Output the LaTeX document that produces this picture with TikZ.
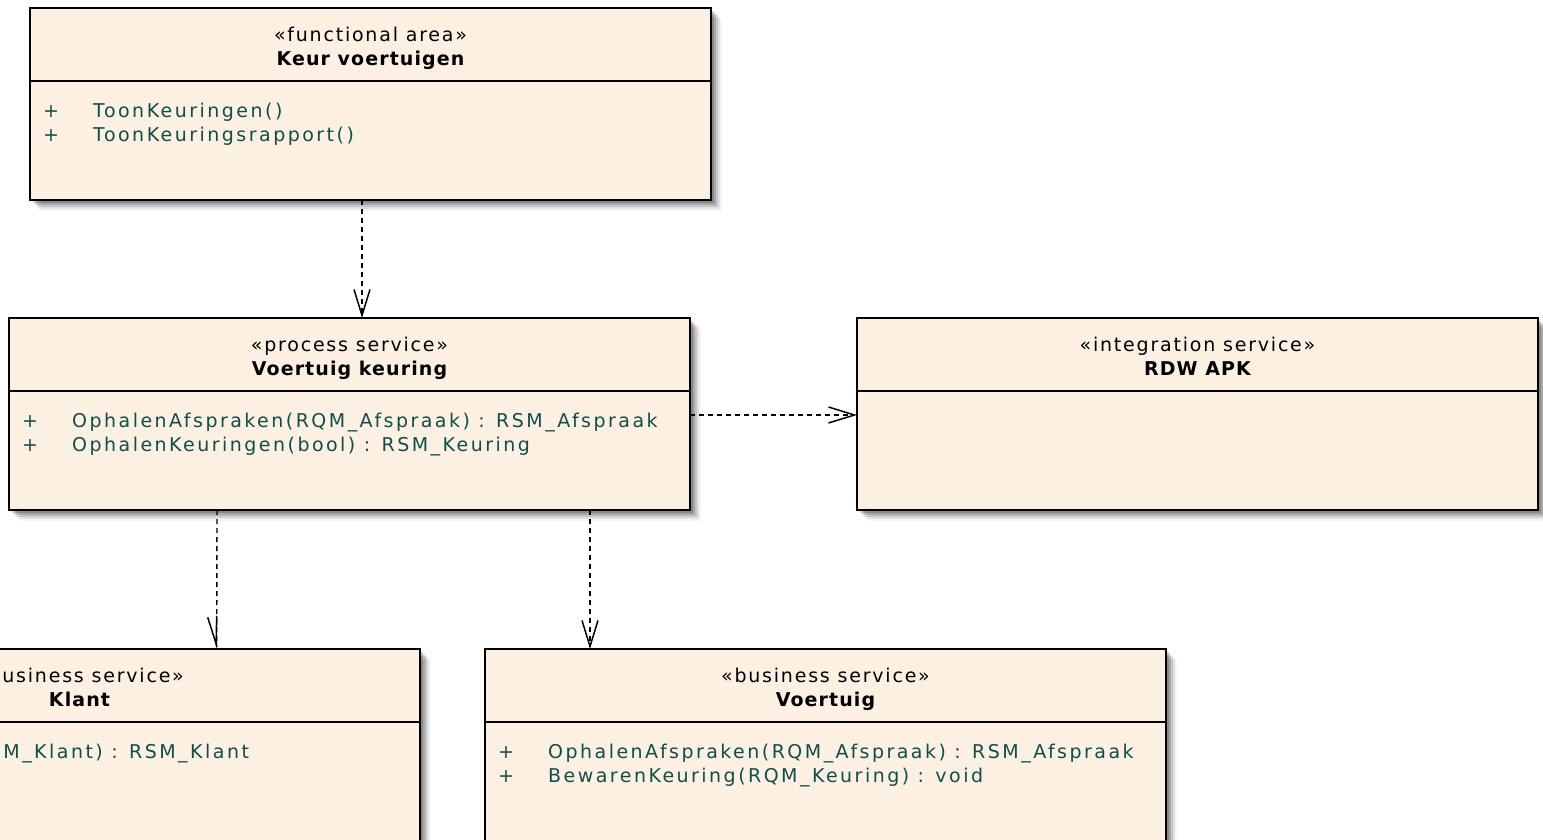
\documentclass[tikz,border=0pt]{standalone}
\usepackage{fontspec}
\setmainfont{DejaVu Sans}
\newfontfamily\stfont[LetterSpace=9.4]{DejaVu Sans}
\newfontfamily\opfont[LetterSpace=13]{DejaVu Sans}
\newfontfamily\nmfont[LetterSpace=5.8]{DejaVu Sans}
\usetikzlibrary{arrows.meta,shadows}
\definecolor{boxfill}{RGB}{251,240,226}
\definecolor{optext}{RGB}{16,78,78}
\tikzset{
  umlbox/.style={rectangle, draw=black, line width=1.5pt, fill=boxfill,
    minimum width=681pt, minimum height=192pt, inner sep=0pt, outer sep=0pt, anchor=north west,
    drop shadow={shadow xshift=2.5pt, shadow yshift=-2.5pt, opacity=0.18, fill=black},
    drop shadow={shadow xshift=4.5pt, shadow yshift=-4.5pt, opacity=0.15, fill=black},
    drop shadow={shadow xshift=6.5pt, shadow yshift=-6.5pt, opacity=0.12, fill=black},
    drop shadow={shadow xshift=8.5pt, shadow yshift=-8.5pt, opacity=0.08, fill=black},
    drop shadow={shadow xshift=10.5pt, shadow yshift=-10.5pt, opacity=0.04, fill=black}},
  sepline/.style={line width=1.2pt, draw=black},
  stereo/.style={anchor=base, inner sep=0pt, font=\stfont\fontsize{19}{23}\selectfont},
  bname/.style={anchor=base, inner sep=0pt, font=\nmfont\bfseries\fontsize{19}{23}\selectfont},
  optxt/.style={anchor=base west, inner sep=0pt, text=optext, font=\opfont\fontsize{19}{23}\selectfont},
  dep/.style={line width=1.4pt, dash pattern=on 5pt off 4pt,
    -{Straight Barb[length=26pt,width=16pt,line width=1.5pt]}},
  depnarrow/.style={line width=1.4pt, dash pattern=on 5pt off 4pt,
    -{Straight Barb[length=28pt,width=9pt,line width=1.5pt]}},
}
\begin{document}
\begin{tikzpicture}[x=1pt,y=-1pt]
\useasboundingbox (0,0) rectangle (1543,839);
\clip (0,0) rectangle (1543,839);
\fill[white] (0,0) rectangle (1543,839);

% boxes
\node[umlbox] (keur) at (30,8) {};
\node[umlbox] (proc) at (9,318) {};
\node[umlbox] (rdw) at (857,318) {};
\node[umlbox] (klant) at (-261,649) {};
\node[umlbox] (voer) at (485,649) {};

% separators
\foreach \b in {keur,proc,rdw,klant,voer}{
  \draw[sepline] ([yshift=-73pt]\b.north west) -- ([yshift=-73pt]\b.north east);
}

% Keur voertuigen
\node[stereo] (keurst) at ([yshift=-33.5pt]keur.north) {«functional area»};
\node[bname] (keurnm) at ([yshift=-57pt]keur.north) {Keur voertuigen};
\node[optxt] (keurp1) at ([shift={(13pt,-109pt)}]keur.north west) {+};
\node[optxt] (keuro1) at ([shift={(63pt,-109pt)}]keur.north west) {ToonKeuringen()};
\node[optxt] (keurp2) at ([shift={(13pt,-133pt)}]keur.north west) {+};
\node[optxt] (keuro2) at ([shift={(63pt,-133pt)}]keur.north west) {ToonKeuringsrapport()};

% Voertuig keuring
\node[stereo] (procst) at ([yshift=-33.5pt]proc.north) {«process service»};
\node[bname] (procnm) at ([yshift=-57pt]proc.north) {Voertuig keuring};
\node[optxt] (procp1) at ([shift={(13pt,-109pt)}]proc.north west) {+};
\node[optxt] (proco1) at ([shift={(63pt,-109pt)}]proc.north west) {OphalenAfspraken(RQM\_Afspraak) : RSM\_Afspraak};
\node[optxt] (procp2) at ([shift={(13pt,-133pt)}]proc.north west) {+};
\node[optxt] (proco2) at ([shift={(63pt,-133pt)}]proc.north west) {OphalenKeuringen(bool) : RSM\_Keuring};

% RDW APK
\node[stereo] (rdwst) at ([yshift=-33.5pt]rdw.north) {«integration service»};
\node[bname] (rdwnm) at ([yshift=-57pt]rdw.north) {RDW APK};

% Klant
\node[stereo] (klantst) at ([yshift=-33.5pt]klant.north) {«business service»};
\node[bname] (klantnm) at ([yshift=-57pt]klant.north) {Klant};
\node[optxt] (klantp1) at ([shift={(13pt,-109pt)}]klant.north west) {+};
\node[optxt] (klanto1) at ([shift={(63pt,-109pt)}]klant.north west) {OphalenKlant(RQM\_Klant) : RSM\_Klant};

% Voertuig
\node[stereo] (voerst) at ([yshift=-33.5pt]voer.north) {«business service»};
\node[bname] (voernm) at ([yshift=-57pt]voer.north) {Voertuig};
\node[optxt] (voerp1) at ([shift={(13pt,-109pt)}]voer.north west) {+};
\node[optxt] (voero1) at ([shift={(63pt,-109pt)}]voer.north west) {OphalenAfspraken(RQM\_Afspraak) : RSM\_Afspraak};
\node[optxt] (voerp2) at ([shift={(13pt,-133pt)}]voer.north west) {+};
\node[optxt] (voero2) at ([shift={(63pt,-133pt)}]voer.north west) {BewarenKeuring(RQM\_Keuring) : void};

% connectors
\draw[dep] ([xshift=332pt]keur.south west) -- ([xshift=353pt]proc.north west);
\draw[dep] ([yshift=-97pt]proc.north east) -- ([yshift=-97pt]rdw.north west);
\draw[depnarrow] ([xshift=208pt]proc.south west) -- ([shift={(477.7pt,2pt)}]klant.north west) -- ([xshift=478pt]klant.north west);
\draw[dep] ([xshift=581pt]proc.south west) -- ([xshift=105pt]voer.north west);
\end{tikzpicture}
\end{document}
